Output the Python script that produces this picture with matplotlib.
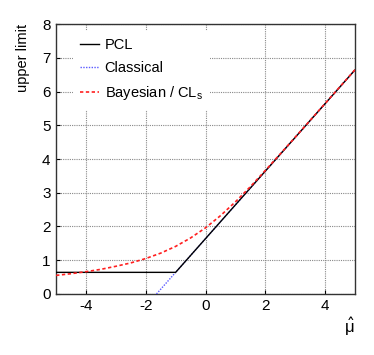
import matplotlib
matplotlib.use("Agg")
import matplotlib.pyplot as plt

# PCL (power-constrained limit)
pcl_x = [-5.0, -1.0, 5.0]
pcl_y = [0.64, 0.64, 6.64]

# Classical upper limit
cls_x = [-1.64, 5.0]
cls_y = [0.0, 6.64]

# Bayesian / CLs upper limit
bay_x = [-5.0, -4.5, -4.0, -3.5, -3.0, -2.5, -2.0, -1.5, -1.0, -0.5,
         0.0, 0.5, 1.0, 1.5, 2.0, 2.5, 3.0, 3.5, 4.0, 4.5, 5.0]
bay_y = [0.55, 0.60, 0.66, 0.73, 0.82, 0.92, 1.05, 1.21, 1.41, 1.66,
         1.96, 2.32, 2.73, 3.18, 3.66, 4.15, 4.645, 5.145, 5.645, 6.145, 6.645]

xticks = [-4, -2, 0, 2, 4]
yticks = [0, 1, 2, 3, 4, 5, 6, 7, 8]

plt.rcParams['font.family'] = ['Liberation Sans', 'DejaVu Sans']
plt.rcParams['axes.unicode_minus'] = False

fig = plt.figure(figsize=(3.74, 3.55), dpi=100)
ax = fig.add_axes([0.150, 0.172, 0.799, 0.760])

ax.plot(cls_x, cls_y, color='#5a5aff', lw=1.0, ls=(0, (1, 1)), label='Classical', zorder=3)
ax.plot(pcl_x, pcl_y, color='black', lw=1.0, ls='-', label='PCL', zorder=4)
ax.plot(bay_x, bay_y, color='#ff2020', lw=1.2, ls=(0, (2, 1.5)), label='Bayesian / CL$_\\mathregular{s}$', zorder=5)

ax.set_xlim(-5, 5)
ax.set_ylim(0, 8)
ax.set_xticks(xticks)
ax.set_yticks(yticks)
ax.grid(True, color='#888888', ls=(0, (1, 1)), lw=0.8)
ax.set_axisbelow(True)
ax.tick_params(direction='in', length=3, labelsize=11, pad=4)
for s in ax.spines.values():
    s.set_linewidth(1.0)
    s.set_color('#333333')

fig.text(0.062, 0.932, 'upper limit', rotation=90, va='top', ha='center', fontsize=10.5)
ax.text(0.98, -0.122, r'$\hat{\mathregular{\mu}}$', transform=ax.transAxes,
        ha='center', va='center', fontsize=12)

handles, labels = ax.get_legend_handles_labels()
order = [1, 0, 2]
leg = ax.legend([handles[i] for i in order], [labels[i] for i in order],
                loc='upper left', bbox_to_anchor=(0.055, 0.975), frameon=True,
                fontsize=10.5, handlelength=1.3, handletextpad=0.4,
                labelspacing=0.62, borderaxespad=0.0, borderpad=0.5)
leg.get_frame().set_edgecolor('none')
leg.get_frame().set_facecolor('white')
leg.get_frame().set_alpha(1.0)
leg.set_zorder(10)

fig.savefig('out.png', dpi=100)
